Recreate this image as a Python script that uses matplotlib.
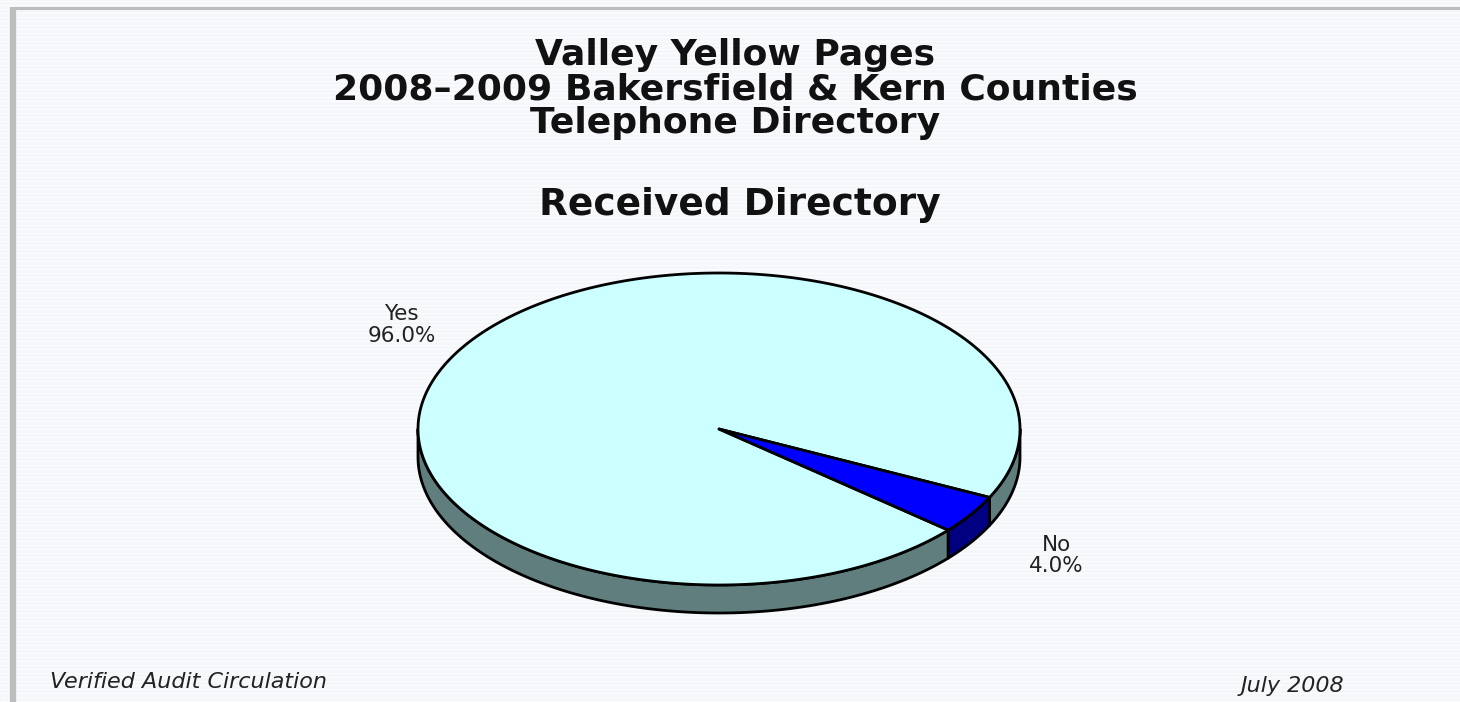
import numpy as np
import matplotlib
matplotlib.use("Agg")
import matplotlib.pyplot as plt
from matplotlib.patches import Polygon

# data
labels = ['Yes', 'No']
shares = [96.0, 4.0]
top_colors = ['#ccffff', '#0000ff']
side_colors = ['#607e7e', '#000080']

title_lines = ['Valley Yellow Pages',
               '2008\u20132009 Bakersfield & Kern Counties',
               'Telephone Directory']
subtitle = 'Received Directory'
footer_left = 'Verified Audit Circulation'
footer_right = 'July 2008'

# pie geometry in pixels (figure is 1460 x 702)
cx, cy = 719, 429
rx, ry = 301, 156
depth = 28
start = -26.0

plt.rcParams['font.family'] = ['DejaVu Sans']

fig = plt.figure(figsize=(14.6, 7.02), dpi=100, facecolor='#f4f6fa')
ax = fig.add_axes([0, 0, 1, 1])
ax.set_xlim(0, 1460)
ax.set_ylim(702, 0)
ax.axis('off')

# faint scan stripes and the grey frame
ax.hlines(np.arange(1, 702, 4), 0, 1460, color='#fbfcfe', lw=1.0, zorder=0)
ax.plot([13, 13], [7, 702], color='#bdbdbd', lw=4.5, solid_capstyle='butt', zorder=1)
ax.plot([11, 1460], [7.5, 7.5], color='#bdbdbd', lw=2.2, solid_capstyle='butt', zorder=1)


def ell(t, dy=0.0):
    t = np.radians(t)
    return np.column_stack([cx + rx * np.cos(t), cy - ry * np.sin(t) + dy])


# angular extent of each slice
spans = []
a0 = start
for s in shares:
    a1 = a0 + 360.0 * s / 100.0
    spans.append((a0, a1))
    a0 = a1

# side walls: only the front half (180..360 deg) is visible
for (t1, t2), col in zip(spans, side_colors):
    for k in (-360, 0, 360):
        lo = max(t1, 180 + k)
        hi = min(t2, 360 + k)
        if hi <= lo:
            continue
        tt = np.linspace(lo, hi, 200)
        pts = np.vstack([ell(tt), ell(tt[::-1], depth)])
        ax.add_patch(Polygon(pts, closed=True, fc=col, ec='black', lw=2.0,
                             joinstyle='round', zorder=2))

# top faces
for (t1, t2), col in zip(spans, top_colors):
    tt = np.linspace(t1, t2, 400)
    pts = np.vstack([[cx, cy], ell(tt)])
    ax.add_patch(Polygon(pts, closed=True, fc=col, ec='black', lw=2.0,
                         joinstyle='round', zorder=3))

# slice labels
for (t1, t2), lab, s in zip(spans, labels, shares):
    tm = np.radians((t1 + t2) / 2)
    lx = cx + 1.3 * rx * np.cos(tm) + 10
    ly = cy - 1.25 * ry * np.sin(tm) + 3
    if np.sin(tm) < 0:
        ly += depth * 0.6
    ax.text(lx, ly, f'{lab}\n{s:.1f}%', ha='center', va='center',
            fontsize=15.5, linespacing=1.1, color='#222222', zorder=4)

# titles
ax.text(735, 89, '\n'.join(title_lines), ha='center', va='center',
        fontsize=26, fontweight='bold', linespacing=1.0, color='#111111')
ax.text(740, 205, subtitle, ha='center', va='center',
        fontsize=27, fontweight='bold', color='#111111')

ax.text(50, 682, footer_left, ha='left', va='center', fontsize=16,
        style='italic', color='#222222')
ax.text(1292, 686, footer_right, ha='center', va='center', fontsize=16,
        style='italic', color='#222222')

fig.savefig('out.png', dpi=100, facecolor=fig.get_facecolor())
